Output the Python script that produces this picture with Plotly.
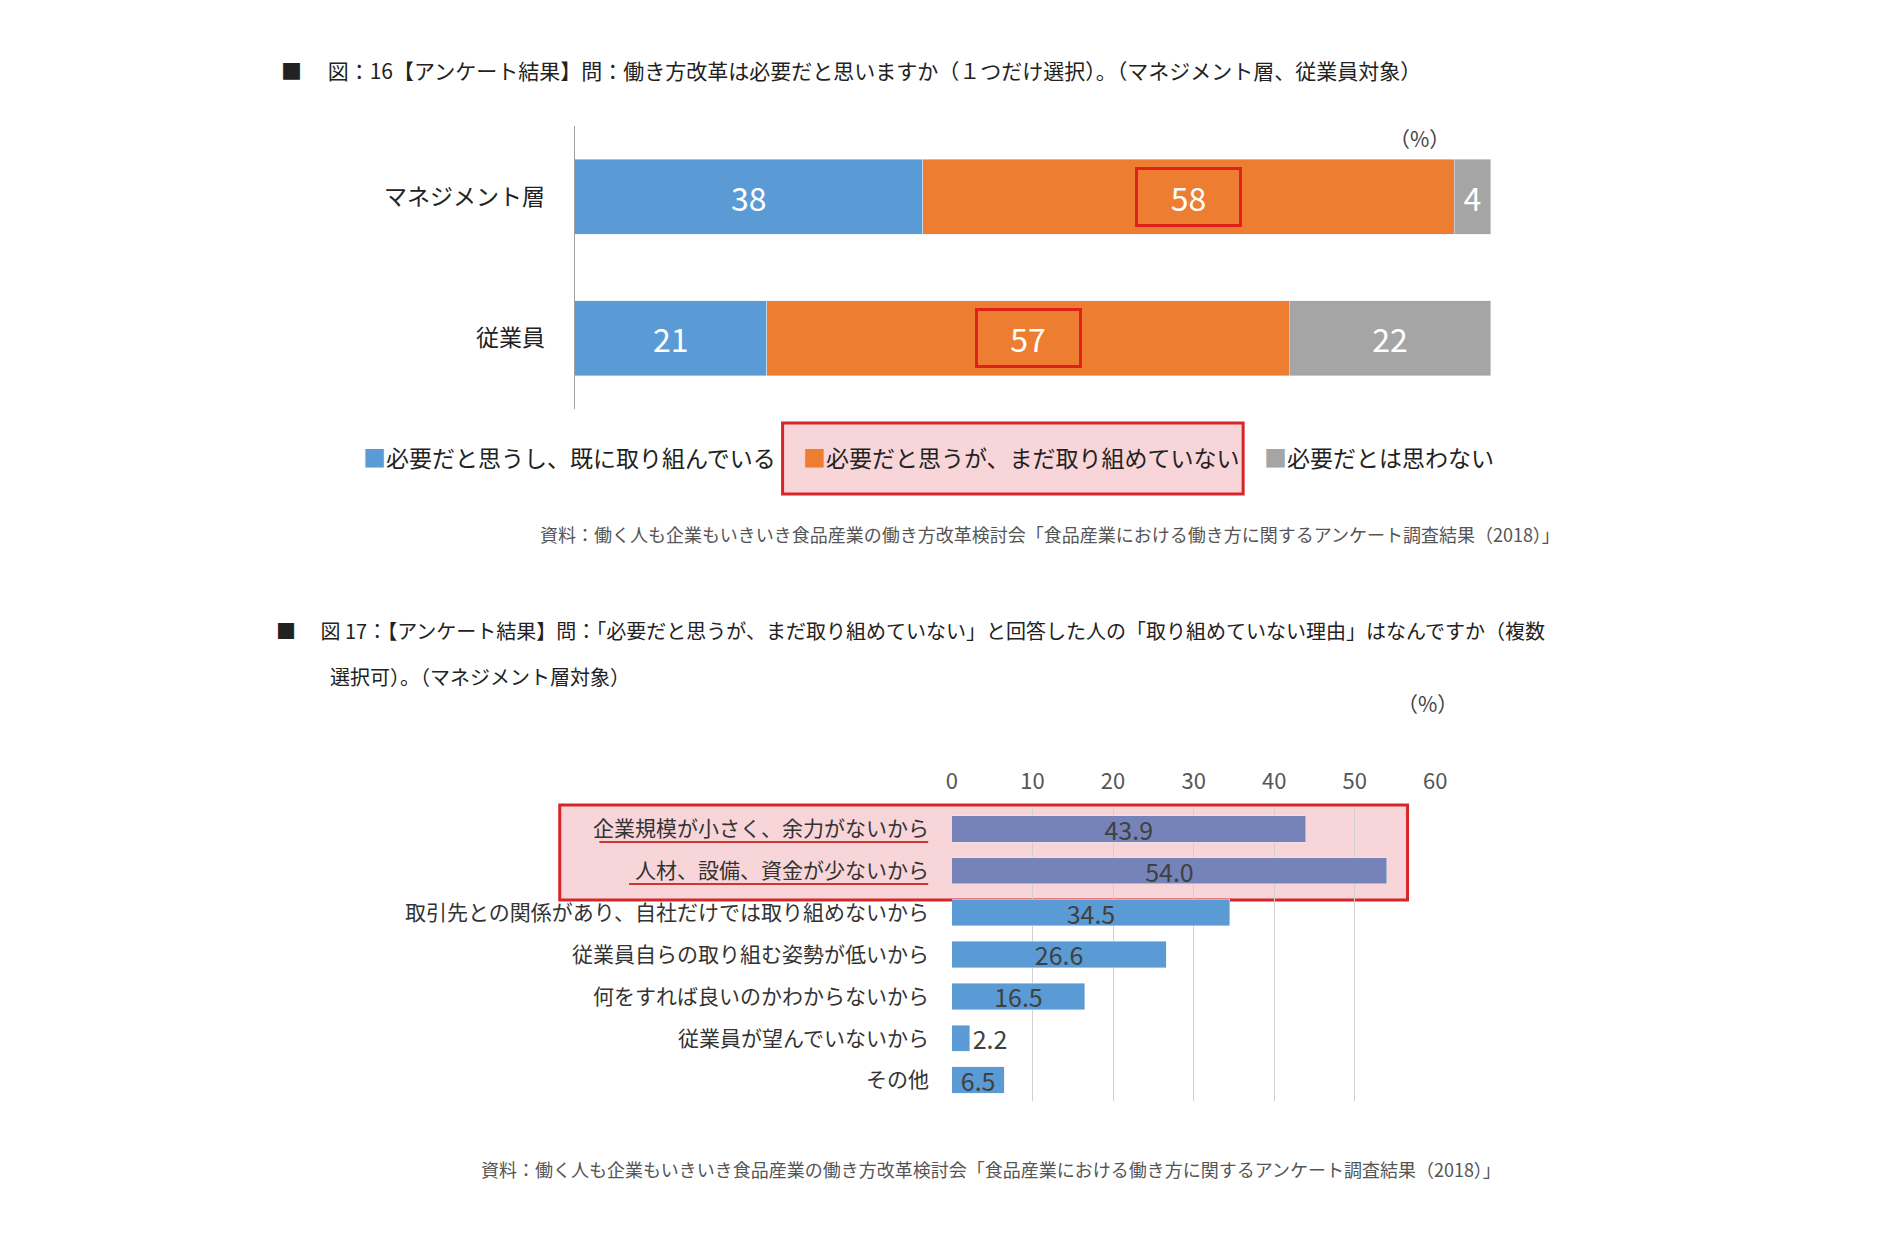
import plotly.graph_objects as go

W, H = 1884, 1255
FONT = "Noto Sans CJK JP"

# chart 16
groups = ["マネジメント層", "従業員"]
series_names = ["必要だと思うし、既に取り組んでいる", "必要だと思うが、まだ取り組めていない", "必要だとは思わない"]
series_vals = [[38, 21], [58, 57], [4, 22]]
series_colors = ["#5b9bd5", "#ed7d31", "#a5a5a5"]

# chart 17
reasons = ["企業規模が小さく、余力がないから", "人材、設備、資金が少ないから",
           "取引先との関係があり、自社だけでは取り組めないから", "従業員自らの取り組む姿勢が低いから",
           "何をすれば良いのかわからないから", "従業員が望んでいないから", "その他"]
reason_vals = [43.9, 54.0, 34.5, 26.6, 16.5, 2.2, 6.5]
reason_colors = ["#7583b8", "#7583b8", "#5b9bd5", "#5b9bd5", "#5b9bd5", "#5b9bd5", "#5b9bd5"]
x_ticks = [0, 10, 20, 30, 40, 50, 60]

source = "資料：働く人も企業もいきいき食品産業の働き方改革検討会「食品産業における働き方に関するアンケート調査結果（2018）」"


def px(x):
    return x / W


def py(y):
    return 1 - y / H


fig = go.Figure()

for name, vals, col in zip(series_names, series_vals, series_colors):
    fig.add_trace(go.Bar(
        y=groups, x=vals, orientation="h", name=name, marker_color=col, width=0.53,
        text=vals, textposition="inside", insidetextanchor="middle", constraintext="none",
        textangle=0, textfont=dict(color="white", size=32, family=FONT), xaxis="x", yaxis="y",
        showlegend=False))

fig.add_trace(go.Bar(
    y=reasons, x=reason_vals, orientation="h", marker_color=reason_colors, width=0.63,
    text=[f"{v:.1f}" for v in reason_vals],
    textposition=["inside"] * 5 + ["outside", "inside"], insidetextanchor="middle",
    constraintext="none", cliponaxis=False, textangle=0,
    textfont=dict(color="#404040", size=25, family=FONT), xaxis="x2", yaxis="y2",
    showlegend=False))

fig.update_layout(
    width=W, height=H, margin=dict(l=0, r=0, t=0, b=0),
    paper_bgcolor="white", plot_bgcolor="rgba(0,0,0,0)",
    barmode="stack", bargap=0.4,
    font=dict(family=FONT, color="#222"),
    xaxis=dict(domain=[px(566), px(1491)], range=[0, 100], visible=False),
    yaxis=dict(domain=[py(401), py(118)], autorange="reversed", showline=True,
               linecolor="#a0a0a0", ticks="", tickfont=dict(size=23, family=FONT),
               ticklabelstandoff=24),
    xaxis2=dict(domain=[px(947), px(1435)], range=[0, 60], anchor="y2", side="top",
                tickvals=x_ticks, showgrid=True, gridcolor="#d0d0d0", zeroline=False,
                tickfont=dict(size=22, color="#555"), showline=False, ticklabelstandoff=14),
    yaxis2=dict(domain=[py(1093), py(800)], anchor="x2", autorange="reversed",
                tickfont=dict(size=21, family=FONT, color="#333"), ticklabelstandoff=22),
)

shapes = [
    # legend highlight box
    dict(type="rect", xref="paper", yref="paper", x0=px(776), x1=px(1241), y0=py(486), y1=py(415),
         fillcolor="#f8d5d8", line=dict(color="#d62728", width=3), layer="below"),
    # chart 17 highlight box
    dict(type="rect", xref="paper", yref="paper", x0=px(551), x1=px(1407), y0=py(892), y1=py(797),
         fillcolor="#f8d5d8", line=dict(color="#d62728", width=3), layer="below"),
    dict(type="line", xref="paper", yref="paper", x0=px(591), x1=px(923), y0=py(834), y1=py(834),
         line=dict(color="#c00000", width=1.5)),
    dict(type="line", xref="paper", yref="paper", x0=px(621), x1=px(923), y0=py(876), y1=py(876),
         line=dict(color="#c00000", width=1.5)),
]
fig.update_layout(shapes=shapes)

ann = []
# red boxes around the orange values
for i, g in enumerate(groups):
    ann.append(dict(x=series_vals[0][i] + series_vals[1][i] / 2, y=g, xref="x", yref="y",
                    text=f"&nbsp;&nbsp;&nbsp;&nbsp;{series_vals[1][i]}&nbsp;&nbsp;&nbsp;&nbsp;",
                    showarrow=False, font=dict(size=32, color="rgba(0,0,0,0)"),
                    bordercolor="#e0201b", borderwidth=3, borderpad=4))


def txt(x, y, t, size, color="#222", xanchor="left"):
    ann.append(dict(x=px(x), y=py(y), xref="paper", yref="paper", text=t, showarrow=False,
                    xanchor=xanchor, yanchor="middle", font=dict(size=size, color=color, family=FONT)))


txt(268, 62, "■　 図：16【アンケート結果】問：働き方改革は必要だと思いますか（１つだけ選択）。（マネジメント層、従業員対象）", 21)
txt(1452, 130, "（%）", 21, "#444", "right")
legend_x = [350, 795, 1260]
for lx, name, col in zip(legend_x, series_names, series_colors):
    txt(lx, 449, f"<span style='color:{col}'>■</span>{name}", 23)
txt(1563, 526, source, 18, "#555", "right")
txt(263, 622, "■　 図 17：【アンケート結果】問：「必要だと思うが、まだ取り組めていない」と回答した人の「取り組めていない理由」はなんですか（複数", 20)
txt(317, 668, "選択可）。（マネジメント層対象）", 20)
txt(1460, 695, "（%）", 21, "#444", "right")
txt(1503, 1161, source, 18, "#555", "right")
fig.update_layout(annotations=ann)

fig.write_html("out.html")
